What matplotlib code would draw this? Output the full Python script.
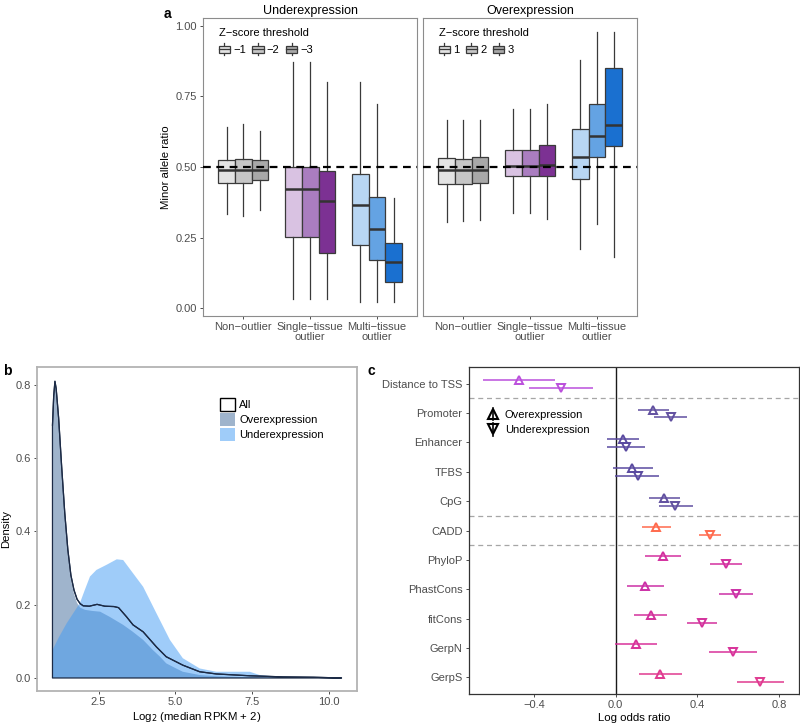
import matplotlib
matplotlib.use("Agg")
import matplotlib.pyplot as plt
from matplotlib.patches import Rectangle
from matplotlib.lines import Line2D
from matplotlib.legend_handler import HandlerBase

plt.rcParams['font.family'] = ['Liberation Sans', 'DejaVu Sans']

# ---- panel a: minor allele ratio boxplots ----
groups = ['Non\u2212outlier', 'Single\u2212tissue\noutlier', 'Multi\u2212tissue\noutlier']
under_thresh = ['\u22121', '\u22122', '\u22123']
over_thresh = ['1', '2', '3']

# rows = group, columns = z-score threshold
under_whislo = [[0.332, 0.326, 0.349], [0.033, 0.033, 0.033], [0.020, 0.020, 0.020]]
under_q1 = [[0.445, 0.445, 0.453], [0.252, 0.252, 0.196], [0.225, 0.170, 0.092]]
under_med = [[0.488, 0.488, 0.488], [0.422, 0.422, 0.379], [0.364, 0.282, 0.162]]
under_q3 = [[0.526, 0.530, 0.524], [0.500, 0.500, 0.486], [0.474, 0.393, 0.232]]
under_whishi = [[0.642, 0.652, 0.628], [0.873, 0.873, 0.800], [0.800, 0.723, 0.390]]

over_whislo = [[0.305, 0.307, 0.313], [0.338, 0.338, 0.317], [0.210, 0.299, 0.182]]
over_q1 = [[0.441, 0.441, 0.445], [0.467, 0.467, 0.469], [0.457, 0.536, 0.575]]
over_med = [[0.488, 0.488, 0.488], [0.504, 0.504, 0.508], [0.537, 0.610, 0.650]]
over_q3 = [[0.532, 0.530, 0.536], [0.562, 0.562, 0.578], [0.635, 0.722, 0.850]]
over_whishi = [[0.666, 0.666, 0.666], [0.704, 0.704, 0.722], [0.879, 0.980, 0.980]]

box_colors = [['#e3e3e3', '#c6c6c6', '#a8a8a8'],
              ['#d9c2e2', '#aa7dc0', '#7c3193'],
              ['#b8d6f3', '#64a3e3', '#1a70d0']]
legend_greys = ['#e3e3e3', '#c6c6c6', '#a8a8a8']

# ---- panel b: density of expression ----
all_x = [1.0, 1.04, 1.08, 1.12, 1.2, 1.3, 1.4, 1.5, 1.6, 1.7, 1.8, 1.9, 2.0, 2.2, 2.45,
         2.7, 3.0, 3.15, 3.41, 3.62, 3.95, 4.38, 4.7, 5.24, 5.79, 6.33, 7.42, 8.5, 9.5, 10.4]
all_y = [0.69, 0.77, 0.81, 0.79, 0.71, 0.575, 0.45, 0.35, 0.28, 0.24, 0.215, 0.203, 0.197,
         0.196, 0.201, 0.196, 0.195, 0.192, 0.167, 0.145, 0.126, 0.085, 0.058, 0.035, 0.017,
         0.011, 0.006, 0.003, 0.002, 0.0]
over_x = [1.0, 1.04, 1.08, 1.12, 1.2, 1.3, 1.4, 1.5, 1.6, 1.7, 1.8, 1.9, 2.06, 2.3, 2.55,
          2.86, 3.1, 3.3, 3.6, 3.95, 4.27, 4.5, 4.7, 5.0, 5.24, 5.79, 6.3, 6.88, 8.0, 10.4]
over_y = [0.69, 0.765, 0.805, 0.785, 0.70, 0.565, 0.44, 0.34, 0.27, 0.23, 0.205, 0.192, 0.186,
          0.183, 0.181, 0.167, 0.155, 0.145, 0.127, 0.104, 0.076, 0.058, 0.040, 0.027, 0.017,
          0.008, 0.005, 0.003, 0.001, 0.0]
under_x = [1.0, 1.2, 1.46, 1.7, 1.89, 2.05, 2.22, 2.43, 2.76, 3.09, 3.3, 3.62, 3.95, 4.38,
           4.82, 5.24, 5.79, 6.33, 6.88, 7.42, 7.74, 8.29, 9.0, 10.4]
under_y = [0.076, 0.11, 0.149, 0.18, 0.204, 0.24, 0.277, 0.295, 0.309, 0.324, 0.322, 0.286,
           0.249, 0.177, 0.104, 0.054, 0.026, 0.017, 0.017, 0.017, 0.008, 0.004, 0.002, 0.0]

# ---- panel c: log odds ratios ----
features = ['Distance to TSS', 'Promoter', 'Enhancer', 'TFBS', 'CpG', 'CADD',
            'PhyloP', 'PhastCons', 'fitCons', 'GerpN', 'GerpS']
lor_over = [-0.472, 0.185, 0.034, 0.080, 0.238, 0.198, 0.230, 0.145, 0.173, 0.100, 0.219]
lor_over_lo = [-0.648, 0.108, -0.042, -0.015, 0.162, 0.129, 0.144, 0.056, 0.092, -0.001, 0.116]
lor_over_hi = [-0.297, 0.260, 0.113, 0.181, 0.317, 0.271, 0.320, 0.238, 0.252, 0.201, 0.323]
lor_under = [-0.267, 0.271, 0.052, 0.108, 0.291, 0.462, 0.541, 0.590, 0.423, 0.573, 0.707]
lor_under_lo = [-0.426, 0.190, -0.041, -0.001, 0.211, 0.407, 0.464, 0.504, 0.350, 0.456, 0.593]
lor_under_hi = [-0.109, 0.350, 0.144, 0.214, 0.377, 0.516, 0.617, 0.671, 0.497, 0.692, 0.823]
feature_colors = ['#bb4fdc', '#6150a0', '#5a4aa0', '#5a4aa0', '#6150a0', '#ff6a4d',
                  '#d3309f', '#cc30a6', '#d3319c', '#d8329a', '#e03a90']

TICK_FS = 8.0
LAB_FS = 8.2
TICK_COL = '#4d4d4d'


class BoxGlyph(HandlerBase):
    # ggplot-style boxplot legend key
    def create_artists(self, legend, orig_handle, xdescent, ydescent, width, height, fontsize, trans):
        x0, y0 = -xdescent, -ydescent
        fc = orig_handle.get_facecolor()
        ec = '#3a3a3a'
        box = Rectangle((x0, y0 + 0.18 * height), width, 0.64 * height, facecolor=fc,
                        edgecolor=ec, lw=0.9, transform=trans)
        med = Line2D([x0, x0 + width], [y0 + 0.5 * height] * 2, color=ec, lw=0.9, transform=trans)
        w1 = Line2D([x0 + width / 2] * 2, [y0 - 0.05 * height, y0 + 0.18 * height], color=ec, lw=0.9, transform=trans)
        w2 = Line2D([x0 + width / 2] * 2, [y0 + 0.82 * height, y0 + 1.05 * height], color=ec, lw=0.9, transform=trans)
        return [w1, w2, box, med]


class RangeGlyph(HandlerBase):
    # pointrange legend key: vertical line with a triangle
    def create_artists(self, legend, orig_handle, xdescent, ydescent, width, height, fontsize, trans):
        x0, y0 = -xdescent, -ydescent
        xc = x0 + width / 2
        ln = Line2D([xc, xc], [y0 - 0.3 * height, y0 + 1.3 * height], color='black', lw=1.2, transform=trans)
        mk = Line2D([xc], [y0 + height / 2], marker=orig_handle.get_marker(), ms=6.5,
                    mfc='none', mec='black', mew=1.5, ls='none', transform=trans)
        return [ln, mk]


fig = plt.figure(figsize=(8, 7.24), dpi=100)

# ---------- panel a ----------
ax_u = fig.add_axes([0.254, 0.5635, 0.2675, 0.4116])
ax_o = fig.add_axes([0.529, 0.5635, 0.2675, 0.4116])
panels = [(ax_u, 'Underexpression', under_thresh,
           under_whislo, under_q1, under_med, under_q3, under_whishi),
          (ax_o, 'Overexpression', over_thresh,
           over_whislo, over_q1, over_med, over_q3, over_whishi)]
offsets = [-0.25, 0.0, 0.25]
for ax, title, thresh, wlo, q1, med, q3, whi in panels:
    for g in range(3):
        for t in range(3):
            st = [dict(whislo=wlo[g][t], q1=q1[g][t], med=med[g][t], q3=q3[g][t],
                       whishi=whi[g][t], fliers=[])]
            ax.bxp(st, positions=[g + 1 + offsets[t]], widths=0.25, patch_artist=True,
                   showcaps=False,
                   boxprops=dict(facecolor=box_colors[g][t], edgecolor='#3a3a3a', lw=0.9),
                   medianprops=dict(color='#333333', lw=1.8),
                   whiskerprops=dict(color='#3a3a3a', lw=0.9))
    ax.axhline(0.5, color='black', lw=1.6, ls=(0, (3.5, 2.5)), zorder=5)
    ax.set_xlim(0.4, 3.6)
    ax.set_ylim(-0.028, 1.028)
    ax.set_xticks([1, 2, 3])
    ax.set_xticklabels(groups, fontsize=TICK_FS, color=TICK_COL, linespacing=1.0)
    ax.set_yticks([0, 0.25, 0.5, 0.75, 1.0])
    ax.set_yticklabels(['0.00', '0.25', '0.50', '0.75', '1.00'], fontsize=TICK_FS, color=TICK_COL)
    ax.tick_params(length=2.5, width=0.7, color='#4d4d4d', pad=2)
    for s in ax.spines.values():
        s.set_color('#8c8c8c')
        s.set_linewidth(0.8)
    ax.set_title(title, fontsize=9, pad=3)
    handles = [Rectangle((0, 0), 1, 1, facecolor=c) for c in legend_greys]
    ax.legend(handles, thresh, title='Z\u2212score threshold', ncol=3, loc='upper left',
              bbox_to_anchor=(0.025, 1.0), frameon=False, fontsize=TICK_FS,
              title_fontsize=TICK_FS, handler_map={Rectangle: BoxGlyph()},
              handlelength=1.0, handleheight=1.15, handletextpad=0.3,
              columnspacing=0.6, alignment='left')
ax_o.tick_params(axis='y', left=False, labelleft=False)
ax_u.set_ylabel('Minor allele ratio', fontsize=LAB_FS, labelpad=3)
fig.text(0.204, 0.991, 'a', fontsize=10, fontweight='bold', va='top')

# ---------- panel b ----------
ax_b = fig.add_axes([0.046, 0.0456, 0.4, 0.4475])
ax_b.fill_between(all_x, all_y, 0, facecolor='none', edgecolor='#1c2b46', lw=0.9, zorder=3)
ax_b.fill_between(over_x, over_y, 0, facecolor='#416a9b', alpha=0.5, lw=0, zorder=1)
ax_b.fill_between(under_x, under_y, 0, facecolor='#419bf5', alpha=0.5, lw=0, zorder=2)
ax_b.plot(all_x, all_y, color='#1c2b46', lw=0.9, zorder=4)
ax_b.set_xlim(0.49, 10.9)
ax_b.set_ylim(-0.0355, 0.849)
ax_b.set_xticks([2.5, 5.0, 7.5, 10.0])
ax_b.set_xticklabels(['2.5', '5.0', '7.5', '10.0'], fontsize=TICK_FS, color=TICK_COL)
ax_b.set_yticks([0, 0.2, 0.4, 0.6, 0.8])
ax_b.set_yticklabels(['0.0', '0.2', '0.4', '0.6', '0.8'], fontsize=TICK_FS, color=TICK_COL)
ax_b.tick_params(length=2.5, width=0.7, color='#4d4d4d', pad=2)
for s in ax_b.spines.values():
    s.set_color('#b3b3b3')
    s.set_linewidth(1.3)
ax_b.set_xlabel('Log$_2$ (median RPKM + 2)', fontsize=LAB_FS, labelpad=2)
ax_b.set_ylabel('Density', fontsize=LAB_FS, labelpad=3)
b_handles = [Rectangle((0, 0), 1, 1, facecolor='white', edgecolor='black', lw=1.0),
             Rectangle((0, 0), 1, 1, facecolor='#416a9b', alpha=0.5, lw=0),
             Rectangle((0, 0), 1, 1, facecolor='#419bf5', alpha=0.5, lw=0)]
ax_b.legend(b_handles, ['All', 'Overexpression', 'Underexpression'], loc='upper left',
            bbox_to_anchor=(0.54, 0.935), frameon=False, fontsize=TICK_FS,
            handlelength=1.4, handleheight=1.4, handletextpad=0.35, labelspacing=0.2)
fig.text(0.004, 0.497, 'b', fontsize=10, fontweight='bold', va='top')

# ---------- panel c ----------
ax_c = fig.add_axes([0.586, 0.0414, 0.4125, 0.4517])
ypos = list(range(len(features)))
for i in ypos:
    col = feature_colors[i]
    ax_c.hlines(i - 0.12, lor_over_lo[i], lor_over_hi[i], color=col, lw=1.1)
    ax_c.plot(lor_over[i], i - 0.12, marker='^', ms=6.3, mfc='none', mec=col, mew=1.4, ls='none')
    ax_c.hlines(i + 0.15, lor_under_lo[i], lor_under_hi[i], color=col, lw=1.1)
    ax_c.plot(lor_under[i], i + 0.15, marker='v', ms=6.3, mfc='none', mec=col, mew=1.4, ls='none')
ax_c.axvline(0, color='#1a1a1a', lw=1.0, zorder=0)
for yb in [0.5, 4.5, 5.5]:
    ax_c.axhline(yb, color='#a6a6a6', lw=0.9, ls=(0, (4, 3)), zorder=0)
ax_c.set_xlim(-0.718, 0.896)
ax_c.set_ylim(10.57, -0.57)
ax_c.set_yticks(ypos)
ax_c.set_yticklabels(features, fontsize=TICK_FS, color=TICK_COL)
ax_c.set_xticks([-0.4, 0.0, 0.4, 0.8])
ax_c.set_xticklabels(['\u22120.4', '0.0', '0.4', '0.8'], fontsize=TICK_FS, color=TICK_COL)
ax_c.tick_params(length=2.5, width=0.7, color='#4d4d4d', pad=2)
for s in ax_c.spines.values():
    s.set_color('#333333')
    s.set_linewidth(0.9)
ax_c.set_xlabel('Log odds ratio', fontsize=LAB_FS, labelpad=2)
c_handles = [Line2D([], [], marker='^'), Line2D([], [], marker='v')]
ax_c.legend(c_handles, ['Overexpression', 'Underexpression'], loc='upper left',
            bbox_to_anchor=(0.025, 0.9), frameon=False, fontsize=TICK_FS,
            handler_map={Line2D: RangeGlyph()}, handlelength=1.0, handletextpad=0.6,
            labelspacing=0.5)
fig.text(0.46, 0.497, 'c', fontsize=10, fontweight='bold', va='top')

fig.savefig('out.png', dpi=100)
